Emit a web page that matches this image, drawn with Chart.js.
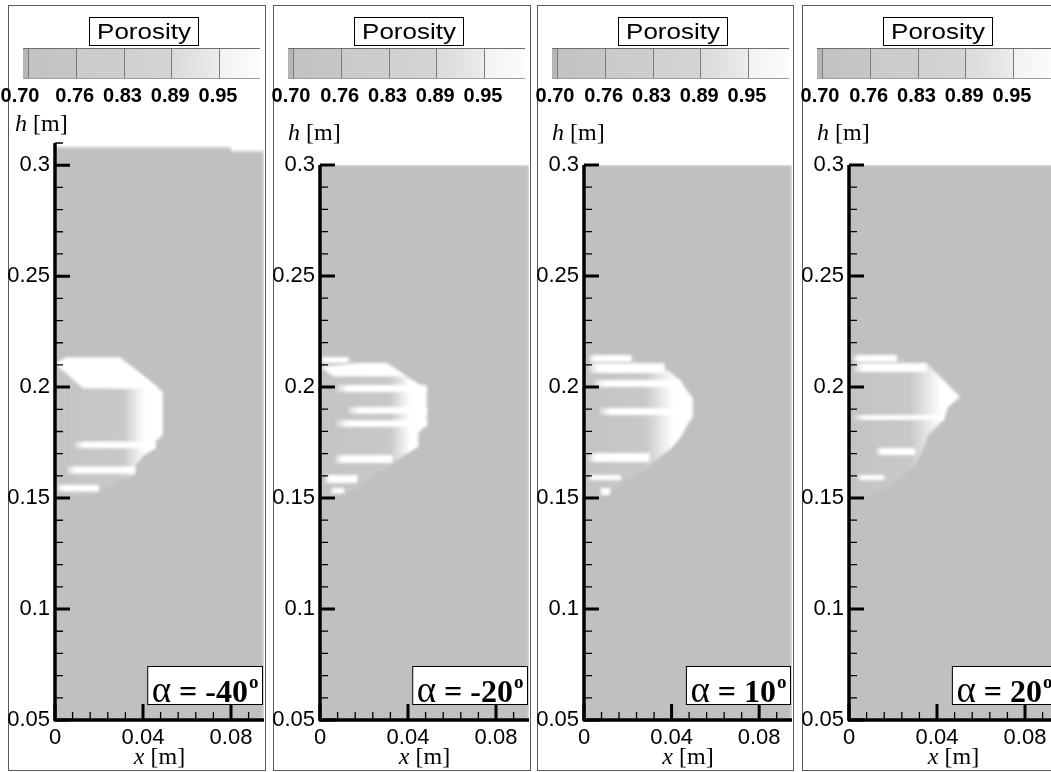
<!DOCTYPE html>
<html>
<head>
<meta charset="utf-8">
<script src="https://cdn.jsdelivr.net/npm/chart.js@4.4.1/dist/chart.umd.min.js"></script>
<style>
  html, body { margin: 0; padding: 0; background: #fff; overflow: hidden; }
  #page { position: relative; width: 1051px; height: 772px; overflow: hidden; }
  .frame { position: absolute; top: 5px; height: 766px; box-sizing: border-box; border: 1px solid #5c5c5c; }
  canvas { position: absolute; top: 0; }
</style>
</head>
<body>
<div id="page"></div>
<script>
// ---- data ----
const angles = ['-40', '-20', '10', '20'];
const porosityTicks = ['0.70', '0.76', '0.83', '0.89', '0.95'];
const porosityLevels = [0.70, 0.7625, 0.825, 0.8875, 0.95];
const xTicks = [0, 0.04, 0.08];
const xTickLabels = ['0', '0.04', '0.08'];
const yTicks = [0.05, 0.1, 0.15, 0.2, 0.25, 0.3];
const yTickLabels = ['0.05', '0.1', '0.15', '0.2', '0.25', '0.3'];
const yTops = [0.31, 0.3, 0.3, 0.3];
const xEnd = 0.095;

// packed bed (porosity ~0.70), outline [x, h]
const bedM40 = [[0, 0.05], [0, 0.3081], [0.08, 0.3081], [0.08, 0.3063], [0.095, 0.3063], [0.095, 0.05]];
const bedM20 = [[0, 0.05], [0, 0.3], [0.095, 0.3], [0.095, 0.05]];
const bed10 = [[0, 0.05], [0, 0.3], [0.095, 0.3], [0.095, 0.05]];
const bed20 = [[0, 0.05], [0, 0.3], [0.095, 0.3], [0.095, 0.05]];

// high porosity zone (cavity) outlines [x, h]
const voidM40 = [[0, 0.2100], [0.005, 0.2135], [0.0295, 0.2135], [0.049, 0.1977], [0.049, 0.1784],
  [0.0455, 0.1755], [0.0455, 0.1725], [0.040, 0.1690], [0.0364, 0.1642], [0.0364, 0.1610],
  [0.030, 0.1580], [0.026, 0.1560], [0.020, 0.1530], [0.015, 0.1505], [0.004, 0.1505], [0, 0.1527]];
const voidM20 = [[0, 0.2135], [0.0136, 0.2135], [0.0174, 0.2108], [0.0303, 0.2108], [0.0394, 0.2047],
  [0.0440, 0.2020], [0.0462, 0.1994], [0.0485, 0.1986], [0.0485, 0.1838], [0.0447, 0.1791],
  [0.0447, 0.1731], [0.0380, 0.1690], [0.0310, 0.1640], [0.0242, 0.1596], [0.0180, 0.1550],
  [0.0136, 0.1522], [0.0076, 0.1506], [0.003, 0.1506], [0, 0.1515]];
const void10 = [[0, 0.2107], [0.0023, 0.2144], [0.0217, 0.2144], [0.0277, 0.2092], [0.0383, 0.2077],
  [0.0444, 0.2024], [0.0474, 0.1979], [0.0497, 0.1950], [0.0497, 0.1866], [0.0467, 0.1821],
  [0.0444, 0.1776], [0.0399, 0.1724], [0.0340, 0.1680], [0.0277, 0.1626], [0.0210, 0.1590],
  [0.0156, 0.1551], [0.0080, 0.1506], [0.003, 0.1506], [0, 0.1515]];
const void20 = [[0, 0.2110], [0.0020, 0.2144], [0.0217, 0.2144], [0.0262, 0.2107], [0.0353, 0.2107],
  [0.0398, 0.2062], [0.0444, 0.2017], [0.0474, 0.1985], [0.0505, 0.1956], [0.0452, 0.1911],
  [0.0429, 0.1851], [0.0398, 0.1821], [0.0360, 0.1784], [0.0338, 0.1724], [0.0308, 0.1656],
  [0.0232, 0.1581], [0.0156, 0.1536], [0.0080, 0.1506], [0.003, 0.1506], [0, 0.1515]];

// porosity rises to ~1 between these x positions inside the cavity
const whiteFrom = [0.031, 0.032, 0.028, 0.028];
const whiteTo = [0.041, 0.041, 0.041, 0.042];

// open cap at the top of the cavity [x, h]
const capM40 = [[0, 0.2105], [0.005, 0.2135], [0.0295, 0.2135], [0.0474, 0.1990], [0.0127, 0.1995]];
const capM20 = [[0, 0.2091], [0.0174, 0.2108], [0.0303, 0.2108], [0.0394, 0.2047], [0.006, 0.2047]];
const cap10 = [];
const cap20 = [];

// open horizontal channels [x0, x1, hTop, hBottom]
const bandsM40 = [[0.009, 0.0455, 0.1755, 0.1725], [0.0055, 0.0364, 0.1642, 0.1610], [0.001, 0.020, 0.1560, 0.1530]];
const bandsM20 = [[0, 0.013, 0.2135, 0.2108], [0.0075, 0.0485, 0.2009, 0.1977], [0.0129, 0.0485, 0.1910, 0.1880],
  [0.0076, 0.0485, 0.1850, 0.1820], [0.0070, 0.0330, 0.1694, 0.1658], [0.0023, 0.0170, 0.1604, 0.1568],
  [0.0050, 0.0110, 0.1545, 0.1520]];
const bands10 = [[0.0023, 0.0217, 0.2144, 0.2113], [0.0023, 0.0368, 0.2107, 0.2063], [0.0045, 0.0440, 0.2032, 0.2000],
  [0.0073, 0.0470, 0.1905, 0.1874], [0.0020, 0.0300, 0.1703, 0.1662], [0.0020, 0.0170, 0.1604, 0.1580],
  [0.0075, 0.0120, 0.1545, 0.1514]];
const bands20 = [[0.0020, 0.0217, 0.2144, 0.2113], [0.0023, 0.0353, 0.2107, 0.2068], [0.0023, 0.0430, 0.1874, 0.1851],
  [0.0126, 0.0300, 0.1725, 0.1694], [0.0040, 0.0160, 0.1604, 0.1580]];

const beds = [bedM40, bedM20, bed10, bed20];
const voids = [voidM40, voidM20, void10, void20];
const caps = [capM40, capM20, cap10, cap20];
const bands = [bandsM40, bandsM20, bands10, bands20];

// ---- layout ----
const frameLeft = [8, 273, 537, 802];
const frameRight = [265, 530, 793, 1100];
const canvasW = [265, 265, 264, 265];
const hLabelPos = [[15, 131], [23, 140], [23, 140], [23, 140]];
const barLabelShift = [-8, -2, -2, -2];
const BED = '#c0c0c0';
const SANS = '"Liberation Sans", Arial, sans-serif';
const SERIF = '"Liberation Serif", "Times New Roman", serif';

const page = document.getElementById('page');

function pts(arr) {
  return arr.map(p => ({x: p[0], y: p[1]}));
}

function shapeSet(points, color, order) {
  return {
    data: pts(points), showLine: true, fill: 'shape', order: order,
    backgroundColor: color, borderColor: 'rgba(0,0,0,0)', borderWidth: 0,
    pointRadius: 0, tension: 0
  };
}

function hGradient(from, to, stops, fallback) {
  return c => {
    const ch = c.chart;
    if (!ch.chartArea) return fallback;
    const sx = ch.scales.x;
    const g = ch.ctx.createLinearGradient(sx.getPixelForValue(from), 0, sx.getPixelForValue(to), 0);
    stops.forEach(s => g.addColorStop(s[0], s[1]));
    return g;
  };
}

// colour bar gray levels [porosity, colour]
const barRamp = [
  [[0.6935, '#b3b3b3'], [0.70, '#b8b8b8']],
  [[0.70, '#c2c2c2'], [0.7625, '#c6c6c6']],
  [[0.7625, '#cacaca'], [0.825, '#cdcdcd']],
  [[0.825, '#d0d0d0'], [0.8875, '#d4d4d4']],
  [[0.8875, '#d9d9d9'], [0.95, '#ececec']],
  [[0.95, '#f1f1f1'], [1.0037, '#fdfdfd']]
];

function drawHeader(ctx, i) {
  ctx.save();
  // title box
  ctx.fillStyle = '#fff';
  ctx.fillRect(89.5, 17.5, 109, 28);
  ctx.strokeStyle = '#000';
  ctx.lineWidth = 1;
  ctx.strokeRect(89.5, 17.5, 109, 28);
  ctx.fillStyle = '#000';
  ctx.font = '22px ' + SANS;
  ctx.textAlign = 'center';
  ctx.textBaseline = 'alphabetic';
  ctx.save();
  ctx.translate(144, 39);
  ctx.scale(1.18, 1);
  ctx.fillText('Porosity', 0, 0);
  ctx.restore();

  // colour bar
  const bx = v => 28 + (v - 0.70) / 0.0625 * 47.75;
  const top = 48, h = 30;
  barRamp.forEach(seg => {
    const x0 = bx(seg[0][0]), x1 = bx(seg[1][0]);
    const g = ctx.createLinearGradient(x0, 0, x1, 0);
    g.addColorStop(0, seg[0][1]);
    g.addColorStop(1, seg[1][1]);
    ctx.fillStyle = g;
    ctx.fillRect(x0, top, x1 - x0 + 0.5, h);
  });
  ctx.strokeStyle = '#7a7a7a';
  ctx.beginPath();
  porosityLevels.forEach(v => {
    const x = Math.round(bx(v)) + 0.5;
    ctx.moveTo(x, top);
    ctx.lineTo(x, top + h);
  });
  ctx.stroke();
  ctx.strokeStyle = '#6e6e6e';
  ctx.beginPath();
  ctx.moveTo(bx(0.6935), top + 0.5);
  ctx.lineTo(bx(1.0037), top + 0.5);
  ctx.stroke();
  ctx.strokeStyle = '#a0a0a0';
  ctx.beginPath();
  ctx.moveTo(bx(0.6935), top + h + 0.5);
  ctx.lineTo(bx(1.0037), top + h + 0.5);
  ctx.stroke();

  ctx.fillStyle = '#000';
  ctx.font = 'bold 20px ' + SANS;
  porosityTicks.forEach((t, k) => {
    ctx.fillText(t, bx(porosityLevels[k]) + (k === 0 ? barLabelShift[i] : -1), 102);
  });

  // h [m]
  ctx.textAlign = 'left';
  const [hx, hy] = hLabelPos[i];
  ctx.font = 'italic 24px ' + SERIF;
  ctx.fillText('h', hx, hy);
  const hw = ctx.measureText('h').width;
  ctx.font = '24px ' + SERIF;
  ctx.fillText(' [m]', hx + hw, hy);
  ctx.restore();
}

function drawAxes(chart) {
  const {ctx, chartArea: a, scales: {x, y}} = chart;
  ctx.save();
  ctx.strokeStyle = '#000';
  ctx.lineCap = 'butt';

  // minor ticks
  ctx.lineWidth = 1.3;
  ctx.beginPath();
  for (let k = 5; k <= Math.round(y.max * 100); k++) {
    if (k % 5 === 0) continue;
    const py = y.getPixelForValue(k / 100);
    ctx.moveTo(a.left, py);
    ctx.lineTo(a.left + 8, py);
  }
  for (let k = 1; k * 0.008 <= x.max; k++) {
    if (k % 5 === 0) continue;
    const px = x.getPixelForValue(k * 0.008);
    ctx.moveTo(px, a.bottom);
    ctx.lineTo(px, a.bottom - 8);
  }
  ctx.stroke();

  // major ticks
  ctx.lineWidth = 3;
  ctx.beginPath();
  yTicks.forEach(v => {
    const py = y.getPixelForValue(v);
    ctx.moveTo(a.left, py);
    ctx.lineTo(a.left + 15, py);
  });
  xTicks.forEach(v => {
    const px = x.getPixelForValue(v);
    ctx.moveTo(px, a.bottom);
    ctx.lineTo(px, a.bottom - 16);
  });
  ctx.stroke();

  // axis lines
  ctx.lineWidth = 3.5;
  ctx.beginPath();
  ctx.moveTo(a.left, a.bottom + 1);
  ctx.lineTo(a.left, a.top);
  ctx.moveTo(a.left - 1, a.bottom);
  ctx.lineTo(a.right, a.bottom);
  ctx.stroke();

  // x [m]
  ctx.fillStyle = '#000';
  ctx.textBaseline = 'alphabetic';
  ctx.textAlign = 'left';
  ctx.font = 'italic 24px ' + SERIF;
  const xw = ctx.measureText('x').width;
  ctx.font = '24px ' + SERIF;
  const mw = ctx.measureText(' [m]').width;
  const cx = (a.left + a.right) / 2 - (xw + mw) / 2;
  ctx.font = 'italic 24px ' + SERIF;
  ctx.fillText('x', cx, 764);
  ctx.font = '24px ' + SERIF;
  ctx.fillText(' [m]', cx + xw, 764);
  ctx.restore();
}

function drawAngle(chart, angle) {
  const {ctx, chartArea: a} = chart;
  ctx.save();
  ctx.textBaseline = 'alphabetic';
  ctx.textAlign = 'left';
  const fA = '37px ' + SERIF, fN = 'bold 32px ' + SERIF, fO = 'bold 19px ' + SERIF;
  const num = ' = ' + angle;
  ctx.font = fA; const wA = ctx.measureText('\u03b1').width;
  ctx.font = fN; const wN = ctx.measureText(num).width;
  ctx.font = fO; const wO = ctx.measureText('o').width;
  const right = a.right - 1.5, bottom = a.bottom - 15.5, top = bottom - 38;
  const left = right - (wA + wN + wO + 9);
  ctx.fillStyle = '#fff';
  ctx.fillRect(left, top, right - left, bottom - top);
  ctx.strokeStyle = '#000';
  ctx.lineWidth = 1;
  ctx.strokeRect(left, top, right - left, bottom - top);
  ctx.fillStyle = '#000';
  const base = bottom - 3;
  let tx = left + 4;
  ctx.font = fA; ctx.fillText('\u03b1', tx, base); tx += wA;
  ctx.font = fN; ctx.fillText(num, tx, base); tx += wN;
  ctx.font = fO; ctx.fillText('o', tx + 1, base - 14);
  ctx.restore();
}

angles.forEach((angle, i) => {
  const frame = document.createElement('div');
  frame.className = 'frame';
  frame.style.left = frameLeft[i] + 'px';
  frame.style.width = (frameRight[i] - frameLeft[i] + 1) + 'px';
  page.appendChild(frame);

  const canvas = document.createElement('canvas');
  canvas.width = canvasW[i];
  canvas.height = 772;
  canvas.style.left = (frameLeft[i] - 8) + 'px';
  page.appendChild(canvas);

  const datasets = [];
  bands[i].forEach(b => {
    datasets.push(shapeSet([[b[0], b[2]], [b[1], b[2]], [b[1], b[3]], [b[0], b[3]]],
      hGradient(b[0], b[1], [[0, 'rgba(255,255,255,0.3)'], [0.12, 'rgba(255,255,255,1)'], [1, 'rgba(255,255,255,1)']], '#fff'), 1));
  });
  if (caps[i].length) datasets.push(shapeSet(caps[i], '#ffffff', 2));
  const f = whiteFrom[i] / xEnd, t = whiteTo[i] / xEnd;
  datasets.push(shapeSet(voids[i], hGradient(0, xEnd,
    [[0, 'rgba(255,255,255,0.06)'], [f, 'rgba(255,255,255,0.14)'], [t, 'rgba(255,255,255,1)'], [1, 'rgba(255,255,255,1)']], '#fff'), 3));
  datasets.push(shapeSet(beds[i], BED, 4));

  const decor = {
    id: 'decor',
    beforeDatasetsDraw(chart) {
      chart.ctx.save();
      chart.ctx.filter = 'blur(1.4px)';
    },
    afterDatasetsDraw(chart) {
      chart.ctx.restore();
    },
    afterDraw(chart) {
      drawHeader(chart.ctx, i);
      drawAxes(chart);
      drawAngle(chart, angle);
    }
  };

  new Chart(canvas, {
    type: 'scatter',
    data: { datasets },
    options: {
      responsive: false,
      animation: false,
      events: [],
      layout: { padding: { top: yTops[i] > 0.3 ? 143 : 165, right: 1, left: 0, bottom: 0 } },
      plugins: { legend: { display: false }, tooltip: { enabled: false } },
      scales: {
        x: {
          type: 'linear', min: 0, max: xEnd,
          grid: { display: false, drawTicks: false },
          border: { display: false },
          afterBuildTicks: s => { s.ticks = xTicks.map(v => ({ value: v })); },
          afterFit: s => { s.height = 52; },
          ticks: {
            padding: 5, color: '#000', maxRotation: 0, autoSkip: false,
            font: { family: SANS, size: 22 },
            callback: (v, k) => xTickLabels[k]
          }
        },
        y: {
          type: 'linear', min: 0.05, max: yTops[i],
          grid: { display: false, drawTicks: false },
          border: { display: false },
          afterBuildTicks: s => { s.ticks = yTicks.map(v => ({ value: v })); },
          afterFit: s => { s.width = 55; },
          ticks: {
            padding: 5, color: '#000', autoSkip: false,
            font: { family: SANS, size: 22 },
            callback: (v, k) => yTickLabels[k]
          }
        }
      }
    },
    plugins: [decor]
  });
});
</script>
</body>
</html>
